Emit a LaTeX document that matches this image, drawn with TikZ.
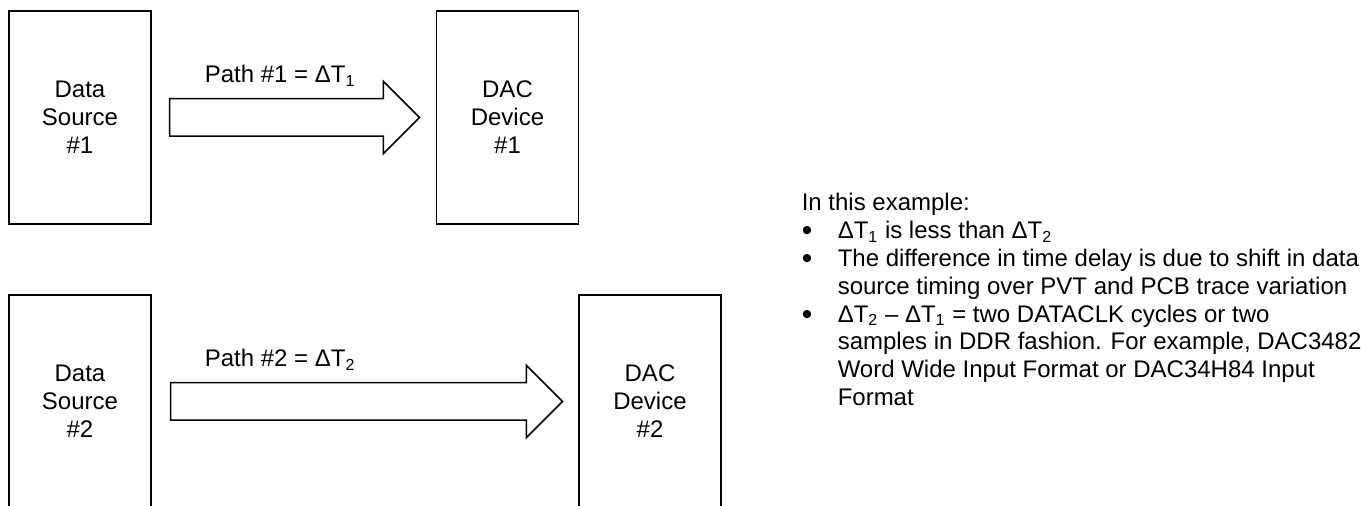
\documentclass[tikz,border=0pt]{standalone}
\usepackage{fontspec}
\setmainfont{Liberation Sans}
\usetikzlibrary{shapes.arrows,calc}

\newcommand{\bigdot}{\raisebox{-1.1pt}{\fontsize{15}{14}\selectfont\textbullet}}

\begin{document}
\begin{tikzpicture}[x=0.5pt,y=-0.5pt,line width=0.75pt,font=\fontsize{12}{14}\selectfont,
    blk/.style={draw,minimum width=71pt,minimum height=106.5pt,align=center},
    bigarrow/.style={draw,single arrow,single arrow head extend=8.75pt,inner sep=0pt,inner ysep=9pt,anchor=tail}]
    \useasboundingbox (0,0) rectangle (1366,506);

    \node[blk] (src1) at (80,117.5) {Data\\ Source\\ \#1};
    \node[blk] (dac1) at (507.5,117.5) {DAC\\ Device\\ \#1};
    \node[blk] (src2) at (80,401.5) {Data\\ Source\\ \#2};
    \node[blk] (dac2) at (650,401.5) {DAC\\ Device\\ \#2};

    \node[bigarrow,minimum height=125pt] (arr1) at ([xshift=8.5pt]src1.east) {};
    \node[bigarrow,minimum height=196pt] (arr2) at ([xshift=9pt]src2.east) {};

    \node[anchor=base west,inner sep=0pt] (lbl1) at (204,83) {Path \#1 = ΔT\textsubscript{1}};
    \node[anchor=base west,inner sep=0pt] (lbl2) at (204,367) {Path \#2 = ΔT\textsubscript{2}};

    \node[anchor=base west,inner sep=0pt,font=\fontsize{12}{13.9}\selectfont] (note) at (801,211) {%
        \begin{tabular}[t]{@{}p{18pt}@{}l@{}}
            \multicolumn{2}{@{}l@{}}{In this example:}\\
            \bigdot & ΔT\textsubscript{1} is less than ΔT\textsubscript{2}\\
            \bigdot & The difference in time delay is due to shift in data\\
                    & source timing over PVT and PCB trace variation\\
            \bigdot & ΔT\textsubscript{2} -- ΔT\textsubscript{1} = two DATACLK cycles or two\\
                    & samples in DDR fashion. For example, DAC3482\\
                    & Word Wide Input Format or DAC34H84 Input\\
                    & Format
        \end{tabular}};
\end{tikzpicture}
\end{document}
